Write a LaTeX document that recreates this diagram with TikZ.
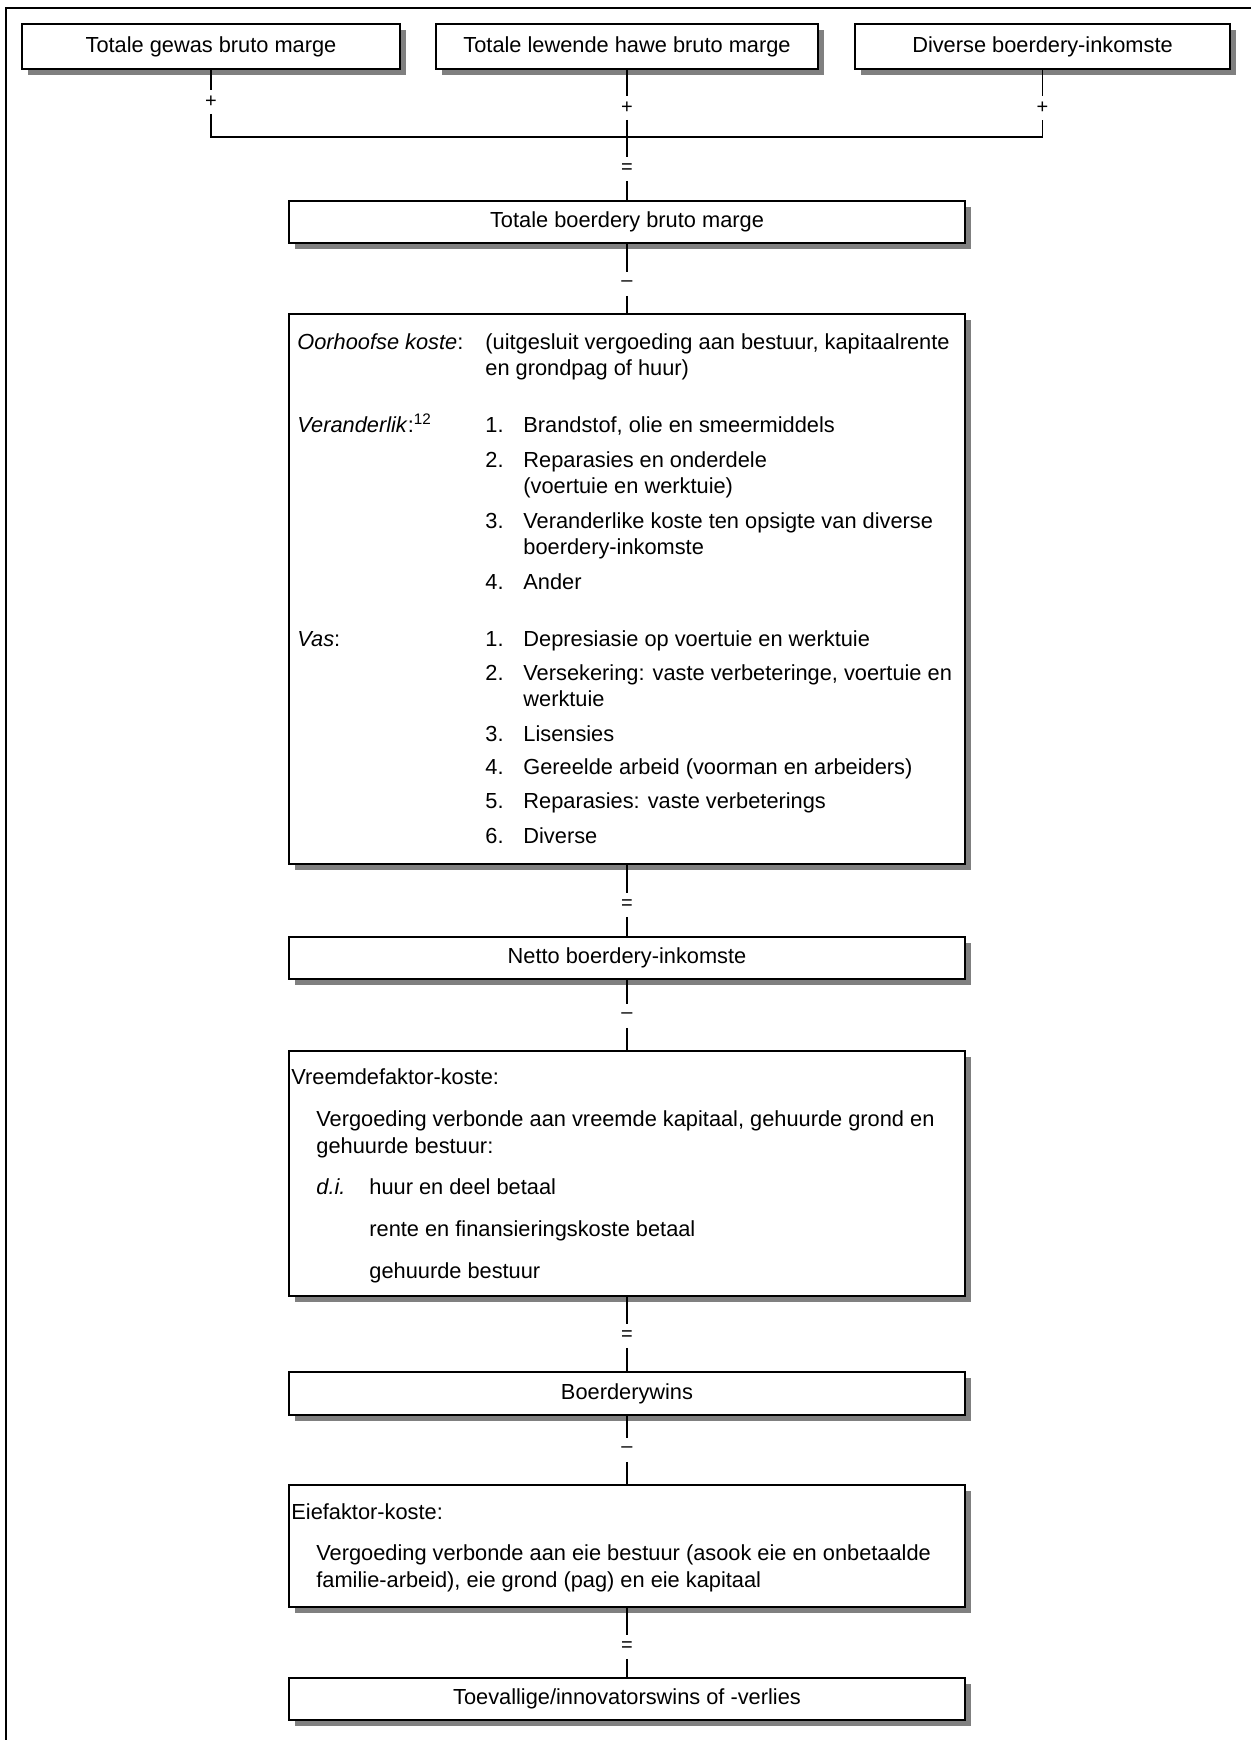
\documentclass[tikz,border=0pt]{standalone}
\usepackage{fontspec}
\setmainfont{Liberation Sans}
\usetikzlibrary{shadows}
\newcommand\fs{\fontsize{10.9}{13.3}\selectfont}
\begin{document}
\begin{tikzpicture}[x=0.5pt,y=-0.5pt,
  box/.style={draw=black, line width=0.75pt, fill=white, inner sep=0pt, font=\fs,
     drop shadow={shadow xshift=3.2pt, shadow yshift=-3pt, fill=black!50, opacity=1}},
  txt/.style={anchor=base west, inner sep=0pt, font=\fs},
  sym/.style={inner sep=0pt, minimum height=11.5pt, minimum width=6pt, font=\fontsize{10}{11}\selectfont},
  conn/.style={line width=0.6pt},
  frame/.style={line width=0.9pt}]
\useasboundingbox (0,0) rectangle (1251,1740);
\draw[frame] (6,1740) -- (6,8) -- (1251,8);

% boxes
\node[box, minimum width=189pt, minimum height=22.5pt] (b1) at (211,46.5) {Totale gewas bruto marge};
\node[box, minimum width=191pt, minimum height=22.5pt] (b2) at (627,46.5) {Totale lewende hawe bruto marge};
\node[box, minimum width=187.5pt, minimum height=22.5pt] (b3) at (1042.5,46.5) {Diverse boerdery-inkomste};
\node[box, minimum width=338pt, minimum height=21pt] (tb) at (627,222) {Totale boerdery bruto marge};
\node[box, minimum width=338pt, minimum height=275pt] (oh) at (627,589) {};
\node[box, minimum width=338pt, minimum height=21pt] (nb) at (627,958) {Netto boerdery-inkomste};
\node[box, minimum width=338pt, minimum height=122.5pt] (vk) at (627,1173.5) {};
\node[box, minimum width=338pt, minimum height=21.5pt] (bw) at (627,1393.5) {Boerderywins};
\node[box, minimum width=338pt, minimum height=61pt] (ek) at (627,1546) {};
\node[box, minimum width=338pt, minimum height=21pt] (tw) at (627,1699) {Toevallige/innovatorswins of -verlies};

% symbols
\node[sym] (p1) at (211,102) {+};
\node[sym] (p2) at (627,108) {+};
\node[sym] (p3) at (1042.5,108) {+};
\coordinate (j1) at (211,137);
\coordinate (j3) at (1042.5,137);
\node[sym] (e0) at (627,169) {=};
\node[sym] (m1) at (627,284) {–};
\node[sym] (e1) at (627,905) {=};
\node[sym] (m2) at (627,1016) {–};
\node[sym] (e2) at (627,1336) {=};
\node[sym] (m3) at (627,1450) {–};
\node[sym] (e3) at (627,1647) {=};

% connectors
\draw[conn] (b1) -- (p1);
\draw[conn] (p1) -- (j1) -- (j3) -- (p3);
\draw[conn] (b3) -- (p3);
\draw[conn] (b2) -- (p2);
\draw[conn] (p2) -- (e0);
\draw[conn] (e0) -- (tb);
\draw[conn] (tb) -- (m1);
\draw[conn] (m1) -- (oh);
\draw[conn] (oh) -- (e1);
\draw[conn] (e1) -- (nb);
\draw[conn] (nb) -- (m2);
\draw[conn] (m2) -- (vk);
\draw[conn] (vk) -- (e2);
\draw[conn] (e2) -- (bw);
\draw[conn] (bw) -- (m3);
\draw[conn] (m3) -- (ek);
\draw[conn] (ek) -- (e3);
\draw[conn] (e3) -- (tw);

% Oorhoofse koste box
\node[txt] (oh1) at (297,349) {\textit{Oorhoofse koste}:};
\node[txt] (oh2) at (485,349) {(uitgesluit vergoeding aan bestuur, kapitaalrente};
\node[txt] (oh3) at (485,375) {en grondpag of huur)};
\node[txt] (va0) at (297,432) {\textit{Veranderlik}:\textsuperscript{12}};
\node[txt] (va1n) at (485,432) {1.};
\node[txt] (va1) at (523,432) {Brandstof, olie en smeermiddels};
\node[txt] (va2n) at (485,467) {2.};
\node[txt] (va2) at (523,467) {Reparasies en onderdele};
\node[txt] (va2b) at (523,493) {(voertuie en werktuie)};
\node[txt] (va3n) at (485,528) {3.};
\node[txt] (va3) at (523,528) {Veranderlike koste ten opsigte van diverse};
\node[txt] (va3b) at (523,554) {boerdery-inkomste};
\node[txt] (va4n) at (485,589) {4.};
\node[txt] (va4) at (523,589) {Ander};
\node[txt] (vs0) at (297,646) {\textit{Vas}:};
\node[txt] (vs1n) at (485,646) {1.};
\node[txt] (vs1) at (523,646) {Depresiasie op voertuie en werktuie};
\node[txt] (vs2n) at (485,680) {2.};
\node[txt] (vs2) at (523,680) {Versekering: vaste verbeteringe, voertuie en};
\node[txt] (vs2b) at (523,706) {werktuie};
\node[txt] (vs3n) at (485,741) {3.};
\node[txt] (vs3) at (523,741) {Lisensies};
\node[txt] (vs4n) at (485,774) {4.};
\node[txt] (vs4) at (523,774) {Gereelde arbeid (voorman en arbeiders)};
\node[txt] (vs5n) at (485,808) {5.};
\node[txt] (vs5) at (523,808) {Reparasies: vaste verbeterings};
\node[txt] (vs6n) at (485,843) {6.};
\node[txt] (vs6) at (523,843) {Diverse};

% Vreemdefaktor box
\node[txt] (vk0) at (291,1084) {Vreemdefaktor-koste:};
\node[txt] (vk1) at (316,1126) {Vergoeding verbonde aan vreemde kapitaal, gehuurde grond en};
\node[txt] (vk2) at (316,1153) {gehuurde bestuur:};
\node[txt] (vk3) at (316,1194) {\textit{d.i.}};
\node[txt] (vk4) at (369,1194) {huur en deel betaal};
\node[txt] (vk5) at (369,1236) {rente en finansieringskoste betaal};
\node[txt] (vk6) at (369,1278) {gehuurde bestuur};

% Eiefaktor box
\node[txt] (ek0) at (291,1519) {Eiefaktor-koste:};
\node[txt] (ek1) at (316,1560) {Vergoeding verbonde aan eie bestuur (asook eie en onbetaalde};
\node[txt] (ek2) at (316,1587) {familie-arbeid), eie grond (pag) en eie kapitaal};
\end{tikzpicture}
\end{document}
